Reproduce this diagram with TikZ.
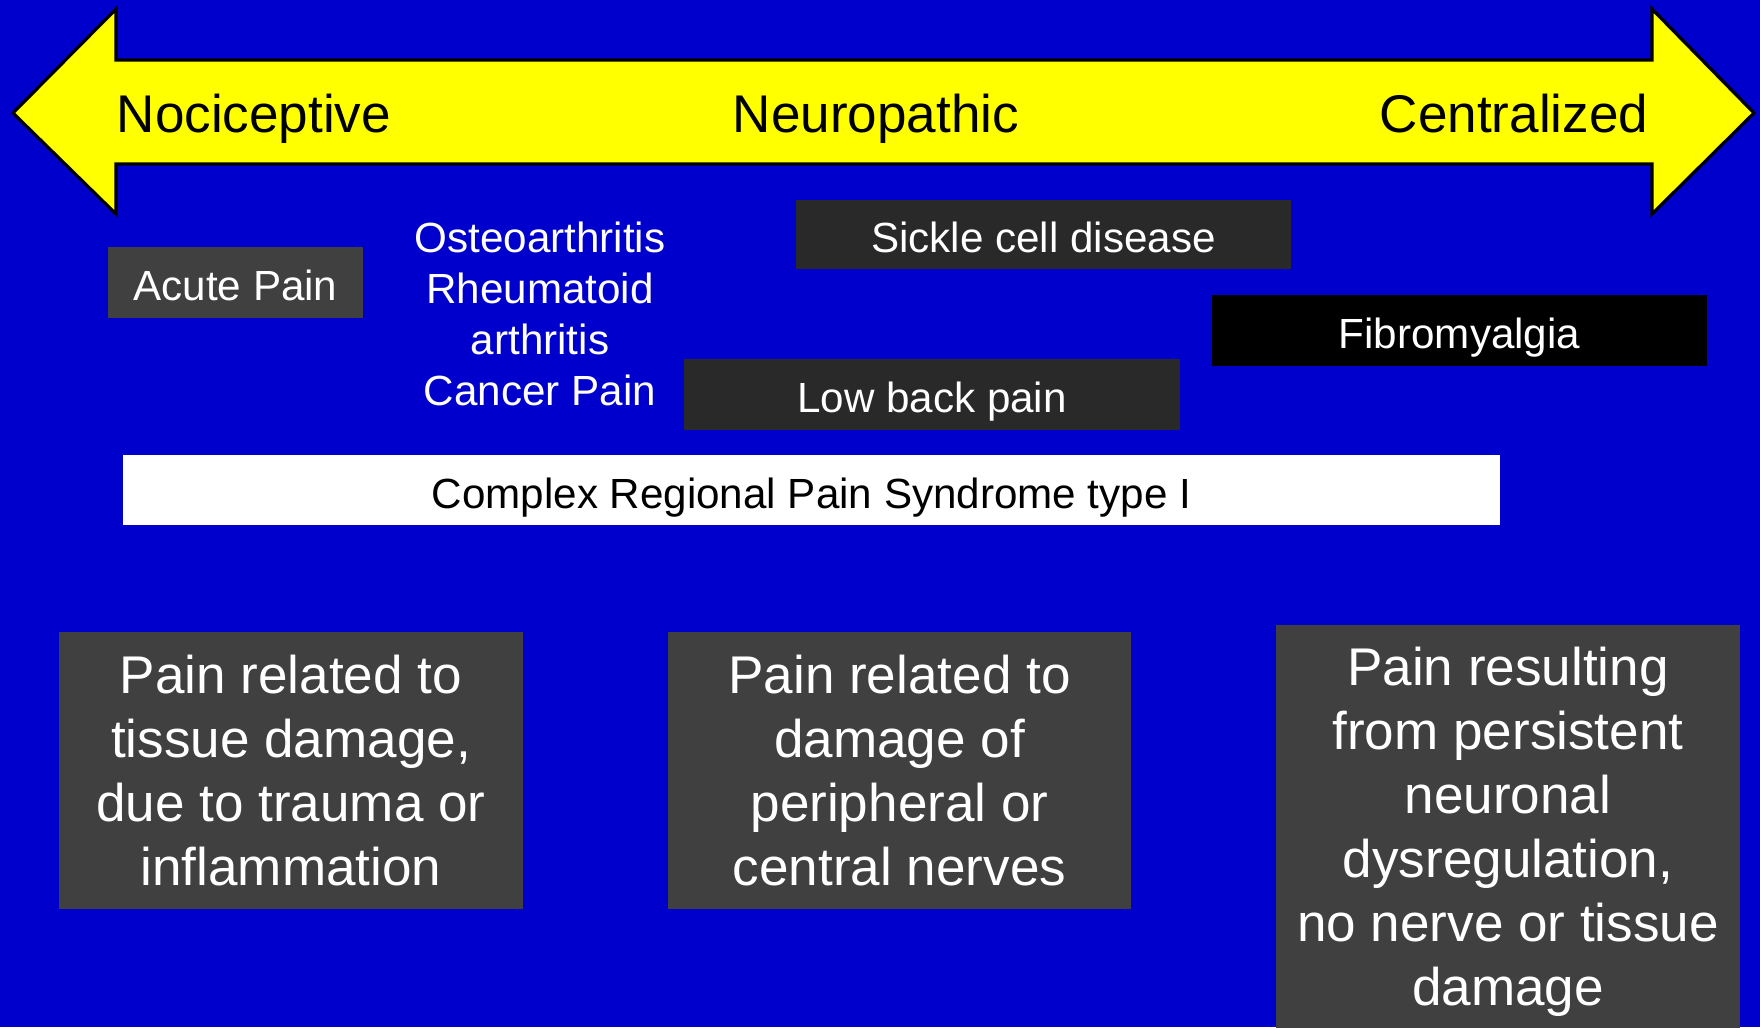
\documentclass[tikz,border=0pt]{standalone}
\usepackage{fontspec}
\setmainfont{Liberation Sans}
\usetikzlibrary{positioning}
\definecolor{slideblue}{HTML}{0000CC}
\definecolor{spectrum}{HTML}{FFFF00}
\definecolor{boxgrey}{HTML}{404040}
\definecolor{boxdark}{HTML}{292929}

\begin{document}
\begin{tikzpicture}[x=1cm,y=-1cm,
  hdr/.style={font=\fontsize{15.1}{18}\selectfont,inner sep=0pt},
  cond/.style={fill=boxgrey,text=white,minimum height=7.1mm,inner sep=0pt,text height=1.05em,text depth=0pt,font=\fontsize{12}{14.5}\selectfont},
  kind/.style={fill=boxgrey,text=white,align=center,inner sep=0pt,font=\fontsize{15.1}{18.2}\selectfont}]
 \fill[slideblue] (0,0) rectangle (17.6,10.27);
 \useasboundingbox (0,0) rectangle (17.6,10.27);
 % double arrow of the pain spectrum
 \draw[fill=spectrum,line width=.9pt,line join=miter]
   (0.13,1.13) -- (1.16,0.09) -- (1.16,0.60) -- (16.52,0.60) -- (16.52,0.09) -- (17.54,1.13)
   -- (16.52,2.14) -- (16.52,1.64) -- (1.16,1.64) -- (1.16,2.14) -- cycle;
 \node[hdr,anchor=base west] (noci) at (1.16,1.32) {Nociceptive};
 \node[hdr,anchor=base] (neuro) at (8.76,1.32) {Neuropathic};
 \node[hdr,anchor=base east] (centr) at (16.49,1.32) {Centralized};
 % conditions
 \node[cond,minimum width=25.5mm] (acute) at (2.355,2.825) {Acute Pain};
 \node[align=center,text=white,inner sep=0pt,font=\fontsize{12}{14.5}\selectfont] (osteo) at (5.40,3.14)
   {Osteoarthritis\\Rheumatoid\\arthritis\\Cancer Pain};
 \node[cond,fill=boxdark,minimum width=49.5mm,minimum height=6.9mm] (sickle) at (10.435,2.345) {Sickle cell disease};
 \node[cond,fill=black,minimum width=49.5mm] (fibro) at (14.595,3.305) {Fibromyalgia};
 \node[cond,fill=boxdark,minimum width=49.6mm] (lbp) at (9.32,3.945) {Low back pain};
 \node[cond,fill=white,text=black,minimum width=137.7mm,minimum height=7mm] (crps) at (8.115,4.90) {Complex Regional Pain Syndrome type I};
 % mechanisms
 \node[kind,minimum width=46.4mm,minimum height=27.7mm] (tissue) at (2.91,7.705)
   {Pain related to\\tissue damage,\\due to trauma or\\inflammation};
 \node[kind,minimum width=46.3mm,minimum height=27.7mm] (nerve) at (8.995,7.705)
   {Pain related to\\damage of\\peripheral or\\central nerves};
 \node[kind,minimum width=46.4mm,minimum height=41.4mm] (dysreg) at (15.08,8.32)
   {Pain resulting\\from persistent\\neuronal\\dysregulation,\\no nerve or tissue\\damage};
\end{tikzpicture}
\end{document}
